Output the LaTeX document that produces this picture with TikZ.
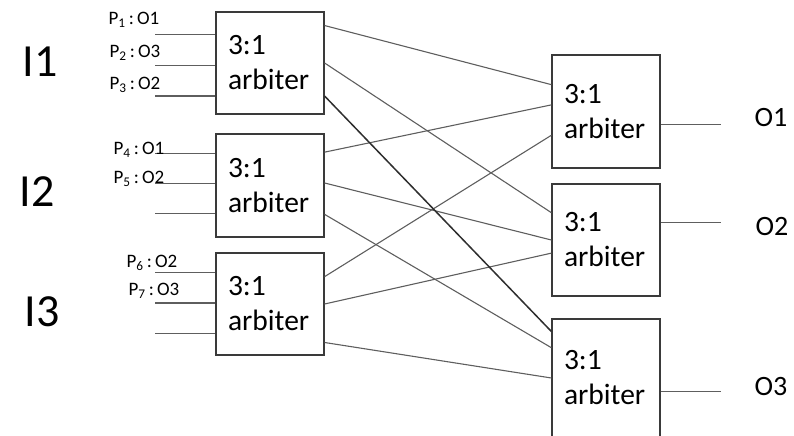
\documentclass[tikz,border=0pt]{standalone}
\usepackage{fontspec}
\setmainfont{Carlito}
\usetikzlibrary{calc}
\definecolor{boxgray}{HTML}{3A3A3A}
\definecolor{wiregray}{HTML}{5E5E5E}
\definecolor{darkwire}{HTML}{2E2E2E}
\begin{document}
\begin{tikzpicture}[x=1bp,y=-1bp,
  arb/.style={draw=boxgray, line width=1.2bp, minimum width=108bp,
    text width=84bp, inner xsep=12bp, inner ysep=0pt, align=left,
    font=\fontsize{29.5bp}{35bp}\selectfont},
  wire/.style={draw=wiregray, line width=1.1bp},
  heavywire/.style={draw=darkwire, line width=1.5bp},
  portlbl/.style={font=\fontsize{19bp}{20bp}\selectfont, inner sep=0pt},
  inlbl/.style={font=\fontsize{46bp}{46bp}\selectfont, inner sep=0pt},
  outlbl/.style={font=\fontsize{28bp}{28bp}\selectfont, inner sep=0pt}]
\useasboundingbox (0,0) rectangle (794,436);
\clip (0,0) rectangle (794,436);

% input-side arbiters
\node[arb, minimum height=102bp] (L1) at (270,63)    {3:1\\arbiter};
\node[arb, minimum height=103bp] (L2) at (270,185.5) {3:1\\arbiter};
\node[arb, minimum height=102bp] (L3) at (270,304)   {3:1\\arbiter};
% output-side arbiters
\node[arb, minimum height=113bp] (R1) at (606,111.5) {3:1\\arbiter};
\node[arb, minimum height=112bp] (R2) at (606,240)   {3:1\\arbiter};
\node[arb, minimum height=118bp] (R3) at (606,378)   {3:1\\arbiter};

% request lines entering the input arbiters
\foreach \b/\f/\n in {L1/0.225/1, L1/0.52/2, L1/0.82/3,
                      L2/0.194/1, L2/0.485/2, L2/0.767/3,
                      L3/0.196/1, L3/0.49/2, L3/0.784/3} {
  \coordinate (\b in\n) at ($(\b.north west)!\f!(\b.south west)$);
  \coordinate (\b src\n) at ($(\b in\n)+(-60,0)$);
  \draw[wire] (\b src\n) -- (\b in\n);
}

% grant lines leaving the output arbiters
\foreach \b/\f in {R1/0.61, R2/0.348, R3/0.61} {
  \coordinate (\b out) at ($(\b.north east)!\f!(\b.south east)$);
  \coordinate (\b end) at ($(\b out)+(60,0)$);
  \draw[wire] (\b out) -- (\b end);
}

% crossbar between the two columns
\foreach \a/\fa/\b/\fb/\n in {L1/0.137/R1/0.265/1, L1/0.5/R2/0.259/2,
                              L2/0.18/R1/0.442/3,  L2/0.476/R2/0.5/4, L2/0.777/R3/0.246/5,
                              L3/0.235/R1/0.708/6, L3/0.5/R2/0.616/7, L3/0.873/R3/0.5/8} {
  \coordinate (x\n a) at ($(\a.north east)!\fa!(\a.south east)$);
  \coordinate (x\n b) at ($(\b.north west)!\fb!(\b.south west)$);
  \draw[wire] (x\n a) -- (x\n b);
}
\coordinate (x0a) at ($(L1.north east)!0.82!(L1.south east)$);
\coordinate (x0b) at ($(R3.north west)!0.11!(R3.south west)$);
\draw[heavywire] (x0a) -- (x0b);

% input port labels
\node[inlbl] (I1) at (40,62)  {I1};
\node[inlbl] (I2) at (37,192) {I2};
\node[inlbl] (I3) at (42,312) {I3};

% packet destinations
\node[portlbl] (p1) at (134,20)  {P\textsubscript{1}\,:\,O1};
\node[portlbl] (p2) at (135,53)  {P\textsubscript{2}\,:\,O3};
\node[portlbl] (p3) at (135,85)  {P\textsubscript{3}\,:\,O2};
\node[portlbl] (p4) at (139,150) {P\textsubscript{4}\,:\,O1};
\node[portlbl] (p5) at (139,179) {P\textsubscript{5}\,:\,O2};
\node[portlbl] (p6) at (152,263) {P\textsubscript{6}\,:\,O2};
\node[portlbl] (p7) at (154,291) {P\textsubscript{7}\,:\,O3};

% output port labels
\node[outlbl] (o1) at (771,118) {O1};
\node[outlbl] (o2) at (772,227) {O2};
\node[outlbl] (o3) at (771,387) {O3};
\end{tikzpicture}
\end{document}
